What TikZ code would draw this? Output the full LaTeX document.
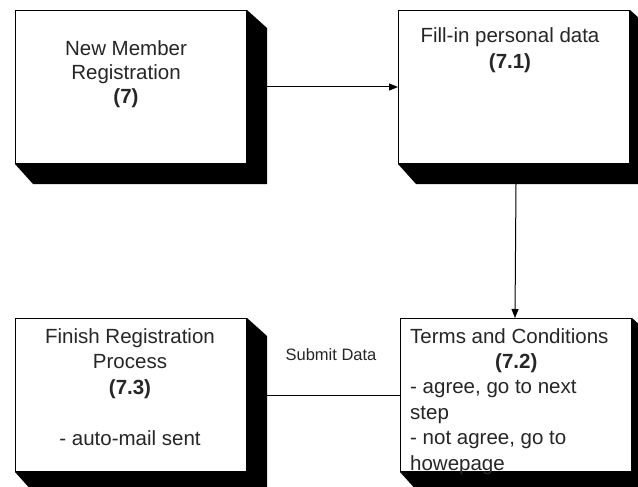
\documentclass[tikz,border=0pt]{standalone}
\usepackage{fontspec}
\setmainfont{Liberation Sans}
\usetikzlibrary{arrows.meta,backgrounds}
% extruded black side of a process box
\newcommand\boxshadow[1]{%
  \fill[black] (#1.north east) -- ([xshift=20pt,yshift=-18pt]#1.north east)
    -- ([xshift=20pt,yshift=-20pt]#1.south east)
    -- ([xshift=18pt,yshift=-20pt]#1.south west)
    -- (#1.south west) -- (#1.south east) -- cycle;}
\begin{document}
\begin{tikzpicture}[x=1pt,y=-1pt,
  face/.style={draw=black, line width=1pt, fill=white, inner sep=0pt,
    minimum width=231pt, minimum height=153pt, anchor=north west},
  txt/.style={inner sep=0pt, text=black!85, font=\fontsize{20.5}{25.4}\selectfont},
  flow/.style={draw=black, line width=1pt},
  arr/.style={flow, -{Triangle[length=9pt,width=7pt]}},
]
\useasboundingbox (0,0) rectangle (638,487);
\clip (0,0) rectangle (638,487);

% process boxes
\node[face] (b1) at (15,10) {};
\node[face] (b2) at (398,10) {};
\node[face] (b3) at (400,318) {};
\node[face] (b4) at (15,318) {};

\begin{pgfonlayer}{background}
  \fill[white] (0,0) rectangle (638,487);
  \boxshadow{b1}
  \boxshadow{b2}
  \boxshadow{b3}
  \boxshadow{b4}
\end{pgfonlayer}

% box texts
\node[txt, align=center, anchor=north, font=\fontsize{20.5}{24}\selectfont]
  (t1) at (126,40) {New Member\\Registration\\\textbf{(7)}};
\node[txt, align=center, anchor=north, font=\fontsize{20.5}{26}\selectfont]
  (t2) at (510,27) {Fill-in personal data\\\textbf{(7.1)}};
\node[txt, align=left, anchor=north west]
  (t3) at (410,328) {Terms and Conditions\\\hspace*{85pt}\textbf{(7.2)}\\
  - agree, go to next\\step\\- not agree, go to\\howepage};
\node[txt, align=center, anchor=north, font=\fontsize{20.5}{25.5}\selectfont]
  (t4) at (130,328) {Finish Registration\\Process\\\textbf{(7.3)}\\[26pt]- auto-mail sent};

% connectors
\draw[arr] ([xshift=20pt]b1.east) -- (b2.west);
\draw[arr] ([xshift=2pt,yshift=-20pt]b2.south) -- ([xshift=-1pt]b3.north);
\draw[flow] (b3.west) -- ([xshift=20pt]b4.east);
\node[inner sep=0pt, text=black!85, font=\fontsize{16.5}{18}\selectfont, anchor=base]
  (sd) at (331,360) {Submit Data};
\end{tikzpicture}
\end{document}
